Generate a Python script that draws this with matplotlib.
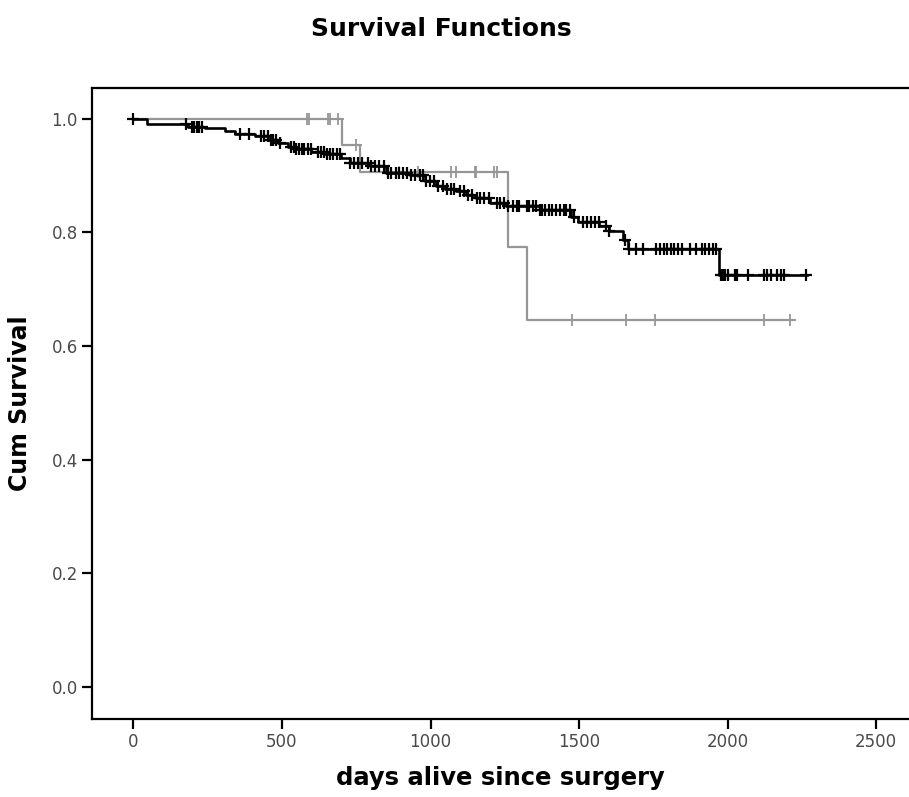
import numpy as np
import matplotlib
matplotlib.use("Agg")
import matplotlib.pyplot as plt

# Kaplan-Meier steps (days, cum survival after the step)
black_times = [0, 45, 185, 240, 308, 342, 410, 453, 486, 520, 543, 599, 644, 700,
               728, 795, 851, 930, 980, 1019, 1050, 1087, 1120, 1154, 1199, 1255,
               1367, 1473, 1495, 1568, 1602, 1647, 1663, 1971]
black_surv = [1.0, 0.991, 0.986, 0.9836, 0.978, 0.973, 0.969, 0.963, 0.957, 0.950,
              0.947, 0.941, 0.937, 0.931, 0.922, 0.916, 0.904, 0.900, 0.890, 0.882,
              0.877, 0.872, 0.866, 0.860, 0.852, 0.846, 0.840, 0.827, 0.819, 0.8105,
              0.802, 0.787, 0.771, 0.7255]
black_end = 2268
black_censor = [0, 176, 196, 205, 214, 222, 230, 360, 388, 430, 440, 452, 462, 470,
                480, 492, 530, 540, 548, 556, 566, 575, 586, 596, 620, 630, 640, 650,
                660, 672, 684, 696, 730, 742, 755, 768, 788, 800, 812, 826, 842, 856,
                868, 882, 895, 908, 920, 933, 948, 965, 976, 986, 998, 1010, 1025,
                1042, 1055, 1068, 1080, 1100, 1112, 1125, 1140, 1156, 1168, 1180,
                1196, 1222, 1234, 1246, 1262, 1278, 1290, 1298, 1324, 1332, 1345,
                1356, 1368, 1375, 1385, 1398, 1410, 1422, 1435, 1448, 1456, 1468,
                1482, 1514, 1526, 1540, 1554, 1566, 1592, 1602, 1654, 1668, 1692,
                1715, 1760, 1772, 1784, 1796, 1808, 1820, 1832, 1846, 1872, 1892,
                1912, 1925, 1938, 1950, 1962, 1978, 1985, 1992, 2000, 2025, 2032,
                2069, 2123, 2132, 2146, 2167, 2178, 2190, 2263]

grey_times = [0, 701, 764, 1259, 1324]
grey_surv = [1.0, 0.954, 0.9055, 0.775, 0.646]
grey_end = 2223
grey_censor = [0, 584, 592, 655, 662, 688, 750, 893, 957, 1070, 1087, 1148, 1153,
               1213, 1225, 1476, 1658, 1754, 2123, 2209]

x_ticks = [0, 500, 1000, 1500, 2000, 2500]
y_ticks = [0.0, 0.2, 0.4, 0.6, 0.8, 1.0]


def km_curve(ax, times, surv, end, censor, color, lw, mew):
    t = list(times) + [end]
    s = list(surv) + [surv[-1]]
    ax.step(t, s, where="post", color=color, lw=lw, zorder=3)
    idx = np.searchsorted(times, censor, side="right") - 1
    cy = np.array(surv)[idx]
    ax.plot(censor, cy, ls="none", marker="+", ms=9, mew=mew, color=color, zorder=3)


fig = plt.figure(figsize=(9.09, 7.97), dpi=100)
ax = fig.add_axes([0.101, 0.098, 0.899, 0.792])

km_curve(ax, grey_times, grey_surv, grey_end, grey_censor, "#969696", 1.6, 1.3)
km_curve(ax, black_times, black_surv, black_end, black_censor, "black", 1.9, 1.6)

ax.set_xlim(-140, 2610)
ax.set_ylim(-0.056, 1.0545)
ax.set_xticks(x_ticks)
ax.set_yticks(y_ticks)
ax.set_yticklabels([f"{v:.1f}" for v in y_ticks])
ax.tick_params(length=7, width=1.6, labelsize=12, labelcolor="#4a4a4a", pad=3)
for sp in ax.spines.values():
    sp.set_linewidth(1.6)
ax.spines["right"].set_visible(False)

ax.set_xlabel("days alive since surgery", fontsize=17.5, fontweight="bold", labelpad=11)
ax.set_ylabel("Cum Survival", fontsize=17, fontweight="bold", labelpad=14)
fig.text(0.485, 0.963, "Survival Functions", ha="center", va="center",
         fontsize=18, fontweight="bold")

fig.savefig("out.png", dpi=100)
